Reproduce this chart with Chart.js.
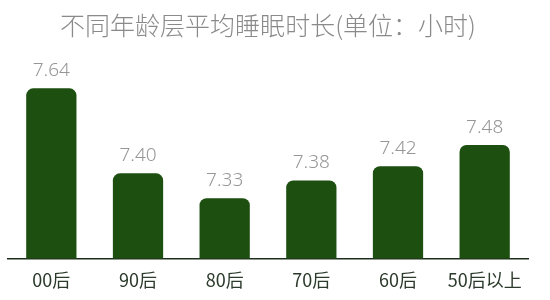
<!DOCTYPE html>
<html>
<head>
<meta charset="utf-8">
<script src="https://cdn.jsdelivr.net/npm/chart.js@4"></script>
<style>
html,body{margin:0;padding:0;background:#fff;}
#wrap{width:550px;height:300px;}
</style>
</head>
<body>
<div id="wrap"><canvas id="c" width="550" height="300"></canvas></div>
<script>
const categories = ["00后", "90后", "80后", "70后", "60后", "50后以上"];
const sleepHours = [7.64, 7.40, 7.33, 7.38, 7.42, 7.48];
const titleText = "不同年龄层平均睡眠时长(单位：小时)";

const valueLabels = {
  id: 'valueLabels',
  afterDatasetsDraw(chart) {
    const ctx = chart.ctx;
    const meta = chart.getDatasetMeta(0);
    ctx.save();
    ctx.font = '300 19px "Noto Sans", "DejaVu Sans", sans-serif';
    ctx.fillStyle = '#969696';
    ctx.textAlign = 'center';
    ctx.textBaseline = 'bottom';
    meta.data.forEach((bar, i) => {
      ctx.fillText(sleepHours[i].toFixed(2), bar.x, bar.y - 8);
    });
    ctx.restore();
  }
};

new Chart(document.getElementById('c'), {
  type: 'bar',
  data: {
    labels: categories,
    datasets: [{
      data: sleepHours,
      backgroundColor: '#1d4f10',
      borderRadius: {topLeft: 7, topRight: 7, bottomLeft: 0, bottomRight: 0},
      borderSkipped: 'bottom',
      categoryPercentage: 1,
      barPercentage: 0.58
    }]
  },
  options: {
    responsive: false,
    animation: false,
    layout: {padding: {left: 8, right: 22, top: 0, bottom: -2}},
    plugins: {
      legend: {display: false},
      tooltip: {enabled: false},
      title: {
        display: true,
        text: titleText,
        color: '#8a8a8a',
        font: {family: '"Noto Sans CJK SC", sans-serif', size: 25, weight: '300'},
        padding: {top: 10, bottom: 20}
      }
    },
    scales: {
      x: {
        grid: {display: false, drawTicks: false},
        border: {display: true, color: '#1e2e1e', width: 1.5},
        ticks: {
          color: '#2b3a2b',
          font: {family: '"Noto Sans CJK SC", sans-serif', size: 18},
          padding: 11
        }
      },
      y: {
        display: false,
        min: 7.16,
        max: 7.72
      }
    }
  },
  plugins: [valueLabels]
});
</script>
</body>
</html>
